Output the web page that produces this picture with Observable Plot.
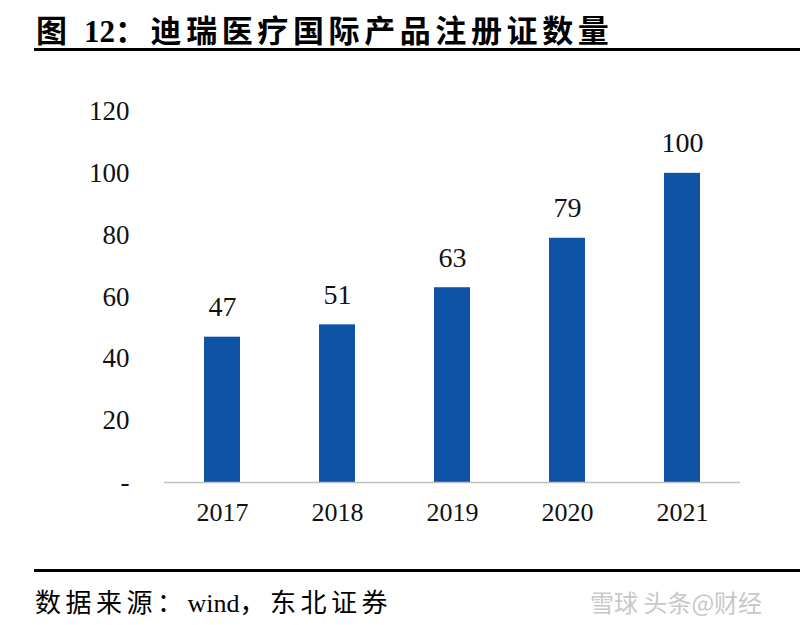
<!DOCTYPE html>
<html>
<head>
<meta charset="utf-8">
<script src="https://cdn.jsdelivr.net/npm/d3@7"></script>
<script src="https://cdn.jsdelivr.net/npm/@observablehq/plot@0.6"></script>
<style>
  html, body { margin: 0; padding: 0; background: #fff; }
  #wrap { position: relative; width: 800px; height: 625px; overflow: hidden; background: #fff; }
  #title { position: absolute; left: 36px; top: 6px; font-family: "Liberation Serif", "Noto Sans CJK SC", serif; font-weight: bold; font-size: 31px; letter-spacing: 4.6px; color: #000; white-space: nowrap; }
  #topline { position: absolute; left: 34px; right: 0; top: 48px; height: 3px; background: #000; }
  #chart { position: absolute; left: 0; top: 60px; }
  #botline { position: absolute; left: 34px; right: 0; top: 569px; height: 3px; background: #000; }
  #source { position: absolute; left: 35px; top: 582px; font-family: "Liberation Serif", "Noto Sans CJK SC", serif; font-size: 26px; letter-spacing: 4.5px; color: #000; white-space: nowrap; }
  .lat { letter-spacing: 0; }
  #wm { position: absolute; left: 590px; top: 584px; font-family: "Noto Sans CJK SC", sans-serif; font-size: 24px; color: #c8c8c8; white-space: nowrap; }
</style>
</head>
<body>
<div id="wrap">
  <div id="title">图 <span class="lat">12</span>：迪瑞医疗国际产品注册证数量</div>
  <div id="topline"></div>
  <div id="chart"></div>
  <div id="botline"></div>
  <div id="source">数据来源：<span class="lat">wind</span>，东北证券</div>
  <div id="wm">雪球 头条@财经</div>
</div>
<script>
const years = ["2017", "2018", "2019", "2020", "2021"];
const counts = [47, 51, 63, 79, 100];
const yTicks = [0, 20, 40, 60, 80, 100, 120];

const data = years.map((y, i) => ({year: y, count: counts[i]}));

const chart = Plot.plot({
  width: 800,
  height: 490,
  marginTop: 51,
  marginBottom: 68,
  marginLeft: 164,
  marginRight: 60,
  style: {fontFamily: "'Liberation Serif', serif", fontSize: "27px", color: "#111", background: "transparent"},
  x: {domain: years, paddingInner: 0.69, paddingOuter: 0.345, label: null},
  y: {domain: [0, 120], label: null},
  marks: [
    Plot.barY(data, {x: "year", y: "count", fill: "#0f53a6"}),
    Plot.ruleY([0], {stroke: "#c0c0c0", strokeWidth: 1.5}),
    Plot.axisY({ticks: yTicks, tickSize: 0, tickPadding: 35, tickFormat: d => d === 0 ? "-" : String(d), label: null, fontSize: 27}),
    Plot.axisX({tickSize: 0, tickPadding: 20, label: null, fontSize: 26}),
    Plot.text(data, {x: "year", y: "count", text: d => String(d.count), lineAnchor: "bottom", dy: -21, fontSize: 28, fill: "#111"})
  ]
});
document.getElementById("chart").appendChild(chart);
</script>
</body>
</html>
